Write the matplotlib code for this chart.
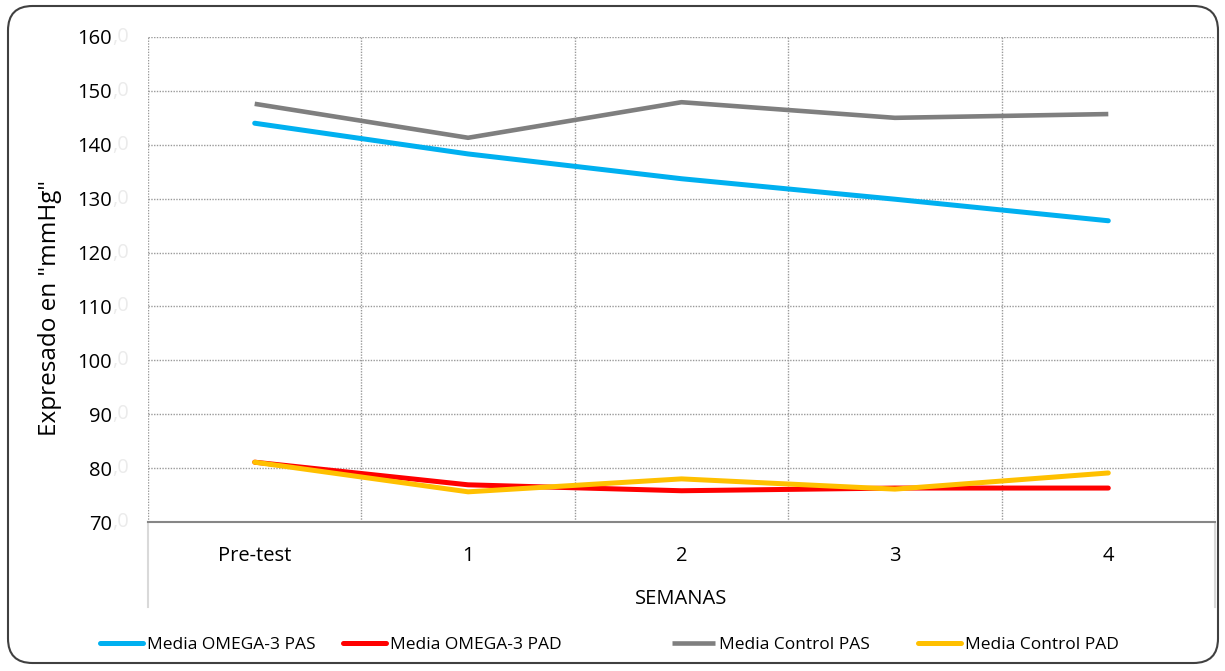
import matplotlib.pyplot as plt
from matplotlib.patches import FancyBboxPatch
from matplotlib.legend import Legend

plt.rcParams['font.family'] = ['Open Sans', 'DejaVu Sans']

# datos
semanas = ['Pre-test', '1', '2', '3', '4']
omega_pas = [144.0, 138.3, 133.7, 129.9, 125.9]
omega_pad = [81.1, 76.9, 75.8, 76.3, 76.3]
control_pas = [147.6, 141.3, 147.9, 145.0, 145.7]
control_pad = [81.1, 75.6, 78.0, 76.1, 79.1]
yticks = list(range(70, 161, 10))

W, H = 1225, 671
fig = plt.figure(figsize=(W / 100, H / 100), dpi=100)
ax = fig.add_axes([148 / W, 1 - 522 / H, (1215 - 148) / W, (522 - 37) / H])

x = range(len(semanas))
l1, = ax.plot(x, omega_pas, color='#00b0f0', lw=3.6, label='Media OMEGA-3 PAS', solid_capstyle='round')
l2, = ax.plot(x, omega_pad, color='#ff0000', lw=3.6, label='Media OMEGA-3 PAD', solid_capstyle='round')
l3, = ax.plot(x, control_pas, color='#7f7f7f', lw=3.3, label='Media Control PAS', solid_capstyle='butt')
l4, = ax.plot(x, control_pad, color='#ffc000', lw=3.6, label='Media Control PAD', solid_capstyle='round')

ax.set_xlim(-0.5, len(semanas) - 0.5)
ax.set_ylim(70, 160)
ax.set_yticks(yticks)
ax.set_yticklabels([str(v) for v in yticks])
ax.set_xticks(list(x))
ax.set_xticklabels(semanas)
ax.set_xticks([i - 0.5 for i in range(len(semanas) + 1)], minor=True)

ax.tick_params(axis='y', length=0, pad=26, labelsize=14.5)
ax.tick_params(axis='x', which='both', length=0, pad=17, labelsize=14.5)

# ",0" casi invisible de los rótulos
for v in yticks:
    ax.annotate(',0', xy=(0, v), xycoords=('axes fraction', 'data'),
                xytext=(-26, 0), textcoords='offset points',
                ha='left', va='center', fontsize=14.5, color='#ebebeb')

ax.grid(axis='y', which='major', color='#9a9a9a', ls=(0, (1, 1)), lw=1)
ax.grid(axis='x', which='minor', color='#9a9a9a', ls=(0, (1, 1)), lw=1)
ax.grid(axis='x', which='major', visible=False)

for s in ['top', 'right', 'left']:
    ax.spines[s].set_visible(False)
ax.spines['bottom'].set_color('#868686')
ax.spines['bottom'].set_linewidth(1.5)

# líneas grises bajo el eje
for xv in [-0.5, len(semanas) - 0.5]:
    ax.plot([xv, xv], [0, -0.175], color='#d9d9d9', lw=1.5,
            transform=ax.get_xaxis_transform(), clip_on=False)

ax.set_xlabel('SEMANAS', fontsize=14.5, labelpad=17)
fig.text(50 / W, 1 - 308 / H, 'Expresado en "mmHg"', rotation=90,
         ha='center', va='center', fontsize=17.5)

# leyenda: una entrada por posición
inicio = [100, 343, 672, 918]
for linea, px in zip([l1, l2, l3, l4], inicio):
    leg = Legend(fig, [linea], [linea.get_label()], loc='center left',
                 bbox_to_anchor=(px / W, 1 - 645 / H), bbox_transform=fig.transFigure,
                 frameon=False, fontsize=12.5, handlelength=2.5, handletextpad=0.2,
                 borderpad=0, borderaxespad=0)
    fig.add_artist(leg)

border = FancyBboxPatch((8 / W, 8 / H), 1210 / W, 657 / H,
                        boxstyle='round,pad=0,rounding_size=0.02',
                        transform=fig.transFigure, fill=False,
                        ec='#404040', lw=1.5, mutation_aspect=W / H)
fig.patches.append(border)

fig.savefig('out.png', dpi=100)
